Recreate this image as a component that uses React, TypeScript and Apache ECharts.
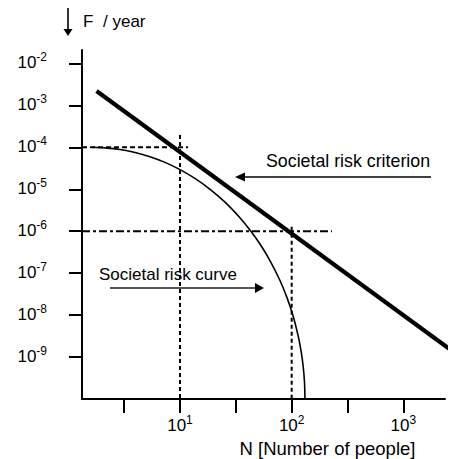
import { useEffect, useRef } from "react";
import * as echarts from "echarts";

// Axis extent (N from axis origin to end, F from bottom to top)
const xRangeN = [1.326, 2360];
const yRangeF = [1e-10, 2.09e-2];

// Tick positions (as powers of ten)
const xTickExponents = [0.5, 1, 1.5, 2, 2.5, 3];
const xLabelExponents = [1, 2, 3];
const yTickExponents = [-9, -8, -7, -6, -5, -4, -3, -2];

// Societal risk criterion (straight line in log-log)
const criterionN = [1.79, 2904];
const criterionF = [2.2e-3, 1.25e-9];

// Societal risk curve
const curveN = [1.66, 2.13, 2.91, 3.96, 5.38, 7.34, 10, 13.6, 18.6, 25.3, 34.4, 42.3, 52.0, 63.9, 78.6, 90.8, 102.7, 113.8, 121.1, 126.2, 130.2, 131.5];
const curveF = [1.0e-4, 9.7e-5, 8.9e-5, 7.55e-5, 5.97e-5, 4.38e-5, 2.94e-5, 1.82e-5, 1.0e-5, 4.94e-6, 2.1e-6, 1.07e-6, 4.95e-7, 2.0e-7, 6.68e-8, 2.61e-8, 9.8e-9, 3.37e-9, 1.45e-9, 6.64e-10, 2.58e-10, 1.0e-10];

// Guide lines
const guideH4N = [1.326, 11.8];
const guideH4F = 1e-4;
const guideV10N = 10;
const guideV10F = [1.96e-4, 1e-10];
const guideH6N = [1.326, 229.5];
const guideH6F = 1e-6;
const guideV100N = 100;
const guideV100F = [1.28e-6, 1e-10];

const FONT = "'Liberation Sans', Arial, Helvetica, sans-serif";
const lg = (v: number) => Math.log10(v);

export default function App() {
  const ref = useRef<HTMLDivElement>(null);
  useEffect(() => {
    if (!ref.current) return;
    const chart = echarts.init(ref.current, null, { renderer: "svg" });

    const rich = {
      b: { fontSize: 17, fontFamily: FONT, color: "#000", lineHeight: 20, verticalAlign: "bottom" },
      s: { fontSize: 12, fontFamily: FONT, color: "#000", lineHeight: 12, verticalAlign: "top" },
    };

    const guide = (pts: number[][], type: any) => ({
      type: "line",
      data: pts,
      symbol: "none",
      silent: true,
      lineStyle: { color: "#000", width: 2, type },
      z: 1,
    });

    chart.setOption({
      animation: false,
      backgroundColor: "#fff",
      grid: { left: 82, right: 10, top: 50, bottom: 60, containLabel: false, outerBoundsMode: "none" },
      xAxis: {
        type: "value",
        min: lg(xRangeN[0]),
        max: lg(xRangeN[1]),
        splitLine: { show: false },
        axisLine: { show: true, lineStyle: { color: "#000", width: 2 } },
        axisTick: { show: true, customValues: xTickExponents, length: 14, lineStyle: { color: "#000", width: 2 } },
        axisLabel: {
          customValues: xLabelExponents,
          margin: 15,
          formatter: (v: number) => `{b|10}{s|${Math.round(v)}}`,
          rich,
        },
      },
      yAxis: {
        type: "value",
        min: lg(yRangeF[0]),
        max: lg(yRangeF[1]),
        interval: 1,
        splitLine: { show: false },
        axisLine: { show: true, lineStyle: { color: "#000", width: 2 } },
        axisTick: { show: true, customValues: yTickExponents, length: 13, lineStyle: { color: "#000", width: 2 } },
        axisLabel: {
          customValues: yTickExponents,
          margin: 35,
          padding: [0, 0, 5, 0],
          formatter: (v: number) => `{b|10}{s|${Math.round(v)}}`,
          rich,
        },
      },
      series: [
        guide([[lg(guideH4N[0]), lg(guideH4F)], [lg(guideH4N[1]), lg(guideH4F)]], [5, 3]),
        guide([[lg(guideV10N), lg(guideV10F[0])], [lg(guideV10N), lg(guideV10F[1])]], [4, 3]),
        guide([[lg(guideH6N[0]), lg(guideH6F)], [lg(guideH6N[1]), lg(guideH6F)]], [8, 3, 3, 3]),
        guide([[lg(guideV100N), lg(guideV100F[0])], [lg(guideV100N), lg(guideV100F[1])]], [4, 3]),
        {
          type: "line",
          data: curveN.map((n, i) => [lg(n), lg(curveF[i])]),
          symbol: "none",
          smooth: 0.3,
          lineStyle: { color: "#000", width: 1.6 },
          z: 2,
        },
        {
          type: "line",
          data: criterionN.map((n, i) => [lg(n), lg(criterionF[i])]),
          symbol: "none",
          clip: false,
          lineStyle: { color: "#000", width: 4.2, cap: "butt" },
          z: 3,
        },
      ],
      graphic: [
        { type: "line", shape: { x1: 68, y1: 8, x2: 68, y2: 30 }, style: { stroke: "#000", lineWidth: 1.6 } },
        { type: "polygon", shape: { points: [[63.5, 29], [72.5, 29], [68, 36]] }, style: { fill: "#000" } },
        { type: "text", x: 83, y: 21, style: { text: "F", fontSize: 17, fontFamily: FONT, fill: "#000", verticalAlign: "middle" } },
        { type: "text", x: 103, y: 21, style: { text: "/ year", fontSize: 17, fontFamily: FONT, fill: "#000", verticalAlign: "middle" } },
        { type: "text", x: 266, y: 161, style: { text: "Societal risk criterion", fontSize: 17.8, fontFamily: FONT, fill: "#000", verticalAlign: "middle" } },
        { type: "line", shape: { x1: 431, y1: 177, x2: 244, y2: 177 }, style: { stroke: "#000", lineWidth: 1.5 } },
        { type: "polygon", shape: { points: [[245, 172.5], [245, 181.5], [235, 177]] }, style: { fill: "#000" } },
        { type: "text", x: 99, y: 274, style: { text: "Societal risk curve", fontSize: 17, fontFamily: FONT, fill: "#000", verticalAlign: "middle" } },
        { type: "line", shape: { x1: 110, y1: 288, x2: 256, y2: 288 }, style: { stroke: "#555", lineWidth: 2 } },
        { type: "polygon", shape: { points: [[255, 283], [255, 293], [264, 288]] }, style: { fill: "#000" } },
        { type: "text", x: 327.5, y: 448, style: { text: "N [Number of people]", fontSize: 18.5, fontFamily: FONT, fill: "#000", align: "center", verticalAlign: "middle" } },
      ],
    });
    return () => chart.dispose();
  }, []);
  return <div ref={ref} style={{ position: "fixed", left: 0, top: 0, width: 455, height: 459 }} />;
}
